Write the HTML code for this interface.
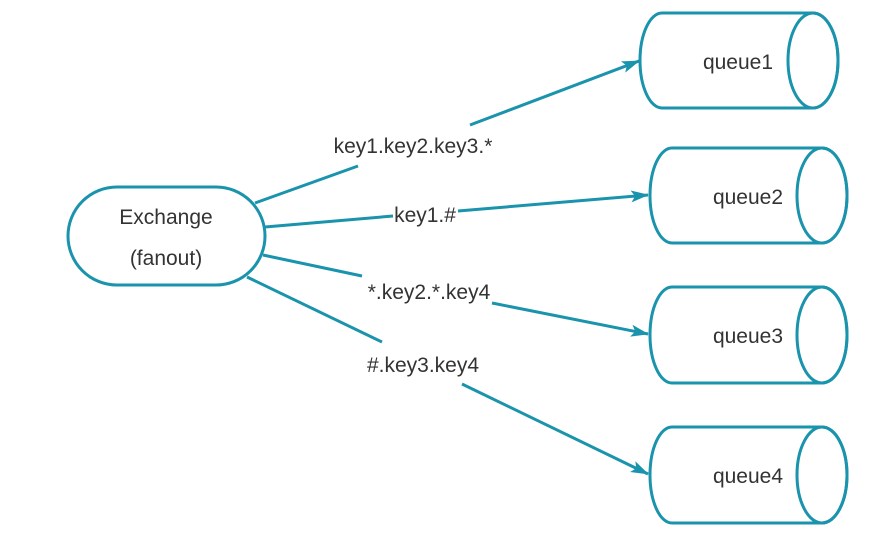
<!DOCTYPE html>
<html><head><meta charset="utf-8"><style>
html,body{margin:0;padding:0;background:#fff;}
svg{display:block}
text{font-family:"Liberation Sans","DejaVu Sans",sans-serif;fill:#333;font-size:21px}
</style></head><body>
<svg width="883" height="537" viewBox="0 0 883 537">
<defs>
<marker id="b" markerWidth="18" markerHeight="14" refX="17" refY="7" orient="auto" markerUnits="userSpaceOnUse">
<path d="M0,1 L18,7 L0,13 L4,7 Z" fill="#1a93ac"/>
</marker>
</defs>
<g fill="none" stroke="#1a93ac" stroke-width="3">
<rect x="68" y="187" width="197" height="98" rx="49" ry="49"/>
<path d="M662,13 H813 A25,47.5 0 0 1 813,108 H662 A22,47.5 0 0 1 662,13 Z"/>
<ellipse cx="813" cy="60.5" rx="25" ry="47.5"/>
<path d="M672,148 H822 A25,47.5 0 0 1 822,243 H672 A22,47.5 0 0 1 672,148 Z"/>
<ellipse cx="822" cy="195.5" rx="25" ry="47.5"/>
<path d="M672,287 H822 A25,48 0 0 1 822,383 H672 A22,48 0 0 1 672,287 Z"/>
<ellipse cx="822" cy="335" rx="25" ry="48"/>
<path d="M672,427 H822 A25,48 0 0 1 822,523 H672 A22,48 0 0 1 672,427 Z"/>
<ellipse cx="822" cy="475" rx="25" ry="48"/>
<line x1="255" y1="203" x2="358" y2="166"/>
<line x1="470" y1="125" x2="639" y2="61" marker-end="url(#b)"/>
<line x1="265" y1="227" x2="393" y2="216"/>
<line x1="458" y1="211" x2="648" y2="195" marker-end="url(#b)"/>
<line x1="263" y1="255" x2="362" y2="276"/>
<line x1="492" y1="303" x2="648" y2="334" marker-end="url(#b)"/>
<line x1="247" y1="277" x2="382" y2="342"/>
<line x1="462" y1="384" x2="648" y2="474" marker-end="url(#b)"/>
</g>
<text x="166" y="224" text-anchor="middle">Exchange</text>
<text x="166" y="265" text-anchor="middle">(fanout)</text>
<text x="413" y="153" text-anchor="middle">key1.key2.key3.*</text>
<text x="425" y="222" text-anchor="middle">key1.#</text>
<text x="429" y="299" text-anchor="middle">*.key2.*.key4</text>
<text x="423" y="372" text-anchor="middle">#.key3.key4</text>
<text x="738" y="69" text-anchor="middle">queue1</text>
<text x="748" y="204" text-anchor="middle">queue2</text>
<text x="748" y="343" text-anchor="middle">queue3</text>
<text x="748" y="483" text-anchor="middle">queue4</text>
</svg>
</body></html>
